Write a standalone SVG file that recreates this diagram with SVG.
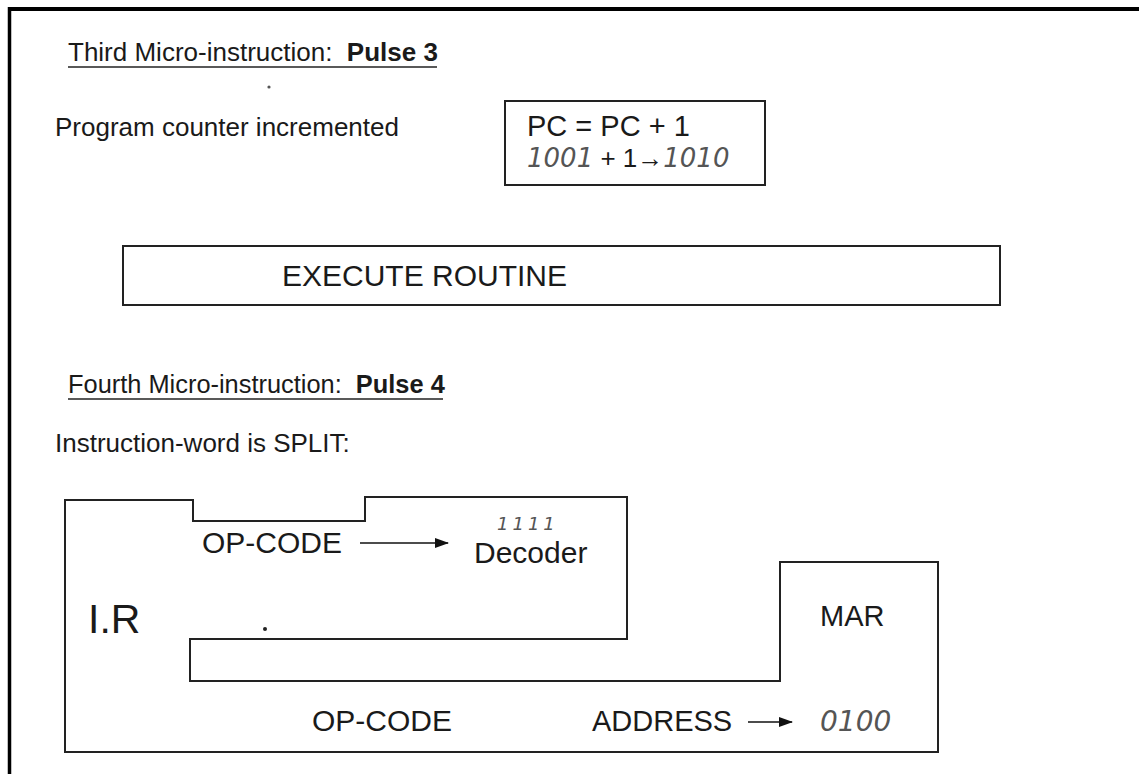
<svg xmlns="http://www.w3.org/2000/svg" width="1139" height="774" viewBox="0 0 1139 774">
<style>
.t{font-family:"Liberation Sans",Arial,sans-serif;fill:#1a1a1a}
.b{font-weight:bold}
.h{font-family:"DejaVu Sans","Liberation Sans",sans-serif;font-style:italic;fill:#555}
.ln{stroke:#222;stroke-width:2;fill:none}
</style>
<defs>
<marker id="ah" viewBox="0 0 14 10" refX="13" refY="5" markerWidth="14" markerHeight="10" orient="auto" markerUnits="userSpaceOnUse">
<path d="M0,0 L14,5 L0,10 z" fill="#111"/>
</marker>
</defs>
<rect width="1139" height="774" fill="#fff"/>
<g id="frame">
<line x1="8" y1="9" x2="1139" y2="9" stroke="#000" stroke-width="4"/>
<line x1="9.5" y1="7" x2="9.5" y2="774" stroke="#000" stroke-width="3.5"/>
</g>
<g id="title3">
<text class="t" x="68" y="61" font-size="26">Third Micro-instruction:&#160; <tspan class="b">Pulse 3</tspan></text>
<line x1="68" y1="67" x2="437" y2="67" stroke="#222" stroke-width="1.5"/>
<circle cx="269" cy="87" r="1.6" fill="#555"/>
</g>
<g id="pc-inc">
<text class="t" x="55" y="136" font-size="26">Program counter incremented</text>
</g>
<g id="pc-box">
<rect class="ln" x="505" y="101" width="260" height="84"/>
<text class="t" x="527" y="136" font-size="29">PC = PC + 1</text>
<text x="527" y="167" font-size="26"><tspan class="h">1001</tspan><tspan class="t"> + 1→</tspan><tspan class="h">1010</tspan></text>
</g>
<g id="execute">
<rect class="ln" x="123" y="246" width="877" height="59"/>
<text class="t" x="282" y="286" font-size="30">EXECUTE ROUTINE</text>
</g>
<g id="title4">
<text class="t" x="68" y="393" font-size="25.4">Fourth Micro-instruction:&#160; <tspan class="b">Pulse 4</tspan></text>
<line x1="68" y1="399" x2="443" y2="399" stroke="#222" stroke-width="1.5"/>
</g>
<g id="split">
<text class="t" x="55" y="452" font-size="26">Instruction-word is SPLIT:</text>
</g>
<g id="ir">
<path class="ln" d="M65,500 L193,500 L193,521 L365,521 L365,497 L627,497 L627,639 L190,639 L190,681 L780,681 L780,562 L938,562 L938,752 L65,752 Z"/>
<text class="t" x="88" y="633" font-size="41">I.R</text>
<circle cx="265" cy="629" r="2" fill="#222"/>
<text class="t" x="202" y="553" font-size="30">OP-CODE</text>
<text class="h" x="497" y="530" font-size="18" letter-spacing="4">1111</text>
<text class="t" x="474" y="563" font-size="30">Decoder</text>
<text class="t" x="312" y="731" font-size="30">OP-CODE</text>
</g>
<g id="mar">
<text class="t" x="820" y="626" font-size="29">MAR</text>
<text class="t" x="592" y="731" font-size="29">ADDRESS</text>
<text class="h" x="820" y="731" font-size="28">0100</text>
</g>
<g id="connectors">
<line x1="360" y1="543" x2="448" y2="543" stroke="#111" stroke-width="1.5" marker-end="url(#ah)"/>
<line x1="748" y1="722" x2="792" y2="722" stroke="#111" stroke-width="1.5" marker-end="url(#ah)"/>
</g>
</svg>
